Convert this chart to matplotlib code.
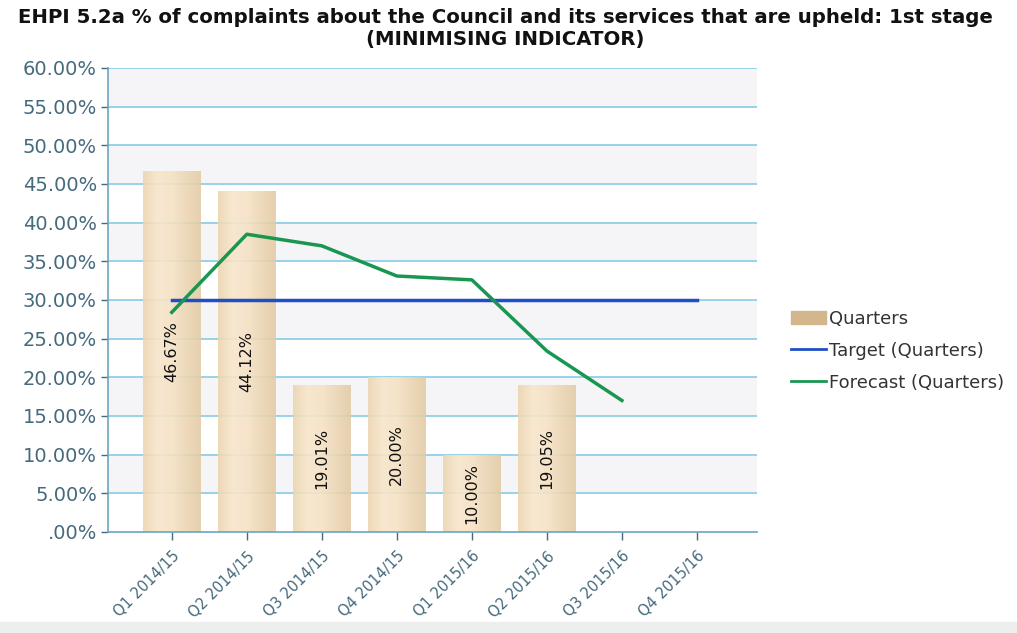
import numpy as np
import matplotlib.pyplot as plt
from matplotlib.colors import LinearSegmentedColormap
from matplotlib.patches import Rectangle
from matplotlib.lines import Line2D
from matplotlib.ticker import FuncFormatter, MultipleLocator

quarters = ['Q1 2014/15', 'Q2 2014/15', 'Q3 2014/15', 'Q4 2014/15',
            'Q1 2015/16', 'Q2 2015/16', 'Q3 2015/16', 'Q4 2015/16']
actual = [46.67, 44.12, 19.01, 20.00, 10.00, 19.05]
target = [30, 30, 30, 30, 30, 30, 30, 30]
forecast = [28.4, 38.5, 37.0, 33.1, 32.6, 23.4, 17.0]

title = ('EHPI 5.2a % of complaints about the Council and its services that are upheld: 1st stage\n'
         '(MINIMISING INDICATOR)')

tick_col = '#456a7c'
grid_col = '#8fd0e8'

fig = plt.figure(figsize=(10.17, 6.33), dpi=100)
ax = fig.add_axes([0.1062, 0.1596, 0.6381, 0.733])

# alternating plot bands
for lo in range(5, 60, 10):
    ax.axhspan(lo, lo + 5, color='#f5f5f8', zorder=0, lw=0)
for y in range(5, 65, 5):
    ax.axhline(y, color=grid_col, lw=1.3, zorder=1)

# bars with a cylinder-like shading
shade = LinearSegmentedColormap.from_list(
    'tan', ['#ecd5b0', '#f8e6cb', '#f6e2c4', '#ecd6b4', '#e3cba6'])
grad = np.linspace(0, 1, 64).reshape(1, -1)
width = 0.76
for i, v in enumerate(actual):
    im = ax.imshow(grad, cmap=shade, aspect='auto', zorder=2, alpha=0.9,
                   extent=(i - width / 2, i + width / 2, 0, v), origin='lower')
    clip = Rectangle((i - width / 2, 0), width, v, transform=ax.transData)
    im.set_clip_path(clip)
    ax.text(i, v / 2, f'{v:.2f}%', rotation=90, ha='center', va='center',
            fontsize=11.5, color='#111111', zorder=5)

x = np.arange(len(quarters))
ax.plot(x[:len(target)], target, color='#1f4fc4', lw=2.5, zorder=3)
ax.plot(x[:len(forecast)], forecast, color='#1a9651', lw=2.5, zorder=4)

ax.set_xlim(-0.85, 7.8)
ax.set_ylim(0, 60)
ax.yaxis.set_major_locator(MultipleLocator(5))
ax.yaxis.set_major_formatter(FuncFormatter(
    lambda v, p: '.00%' if v == 0 else f'{v:.2f}%'))
ax.set_xticks(x)
ax.set_xticklabels(quarters, rotation=45, ha='right', rotation_mode='anchor')
ax.tick_params(axis='y', labelsize=14, colors=tick_col, length=5, width=1, pad=3)
ax.tick_params(axis='x', labelsize=10.5, colors=tick_col, length=6, width=1, pad=6)
for t in ax.get_xticklabels() + ax.get_yticklabels():
    t.set_color(tick_col)

for s in ['top', 'right']:
    ax.spines[s].set_visible(False)
ax.spines['left'].set_color('#6aa5c0')
ax.spines['bottom'].set_color('#6aa5c0')
ax.spines['left'].set_linewidth(1.2)
ax.spines['bottom'].set_linewidth(1.2)

fig.text(0.497, 0.988, title, ha='center', va='top', fontsize=14.2,
         fontweight='bold', color='#111111', linespacing=1.2)

handles = [Rectangle((0, 0), 1, 1, color='#d4b68c'),
           Line2D([], [], color='#1f4fc4', lw=2),
           Line2D([], [], color='#1a9651', lw=2)]
fig.legend(handles, ['Quarters', 'Target (Quarters)', 'Forecast (Quarters)'],
           loc='center left', bbox_to_anchor=(0.762, 0.446), frameon=False,
           fontsize=13, labelcolor='#333333', handlelength=1.9,
           handletextpad=0.2, labelspacing=0.78)

# light strip along the bottom edge
fig.patches.append(Rectangle((0, 0), 1, 0.017, transform=fig.transFigure,
                             color='#eeeeee', zorder=0))

fig.savefig('out.png', dpi=100)
